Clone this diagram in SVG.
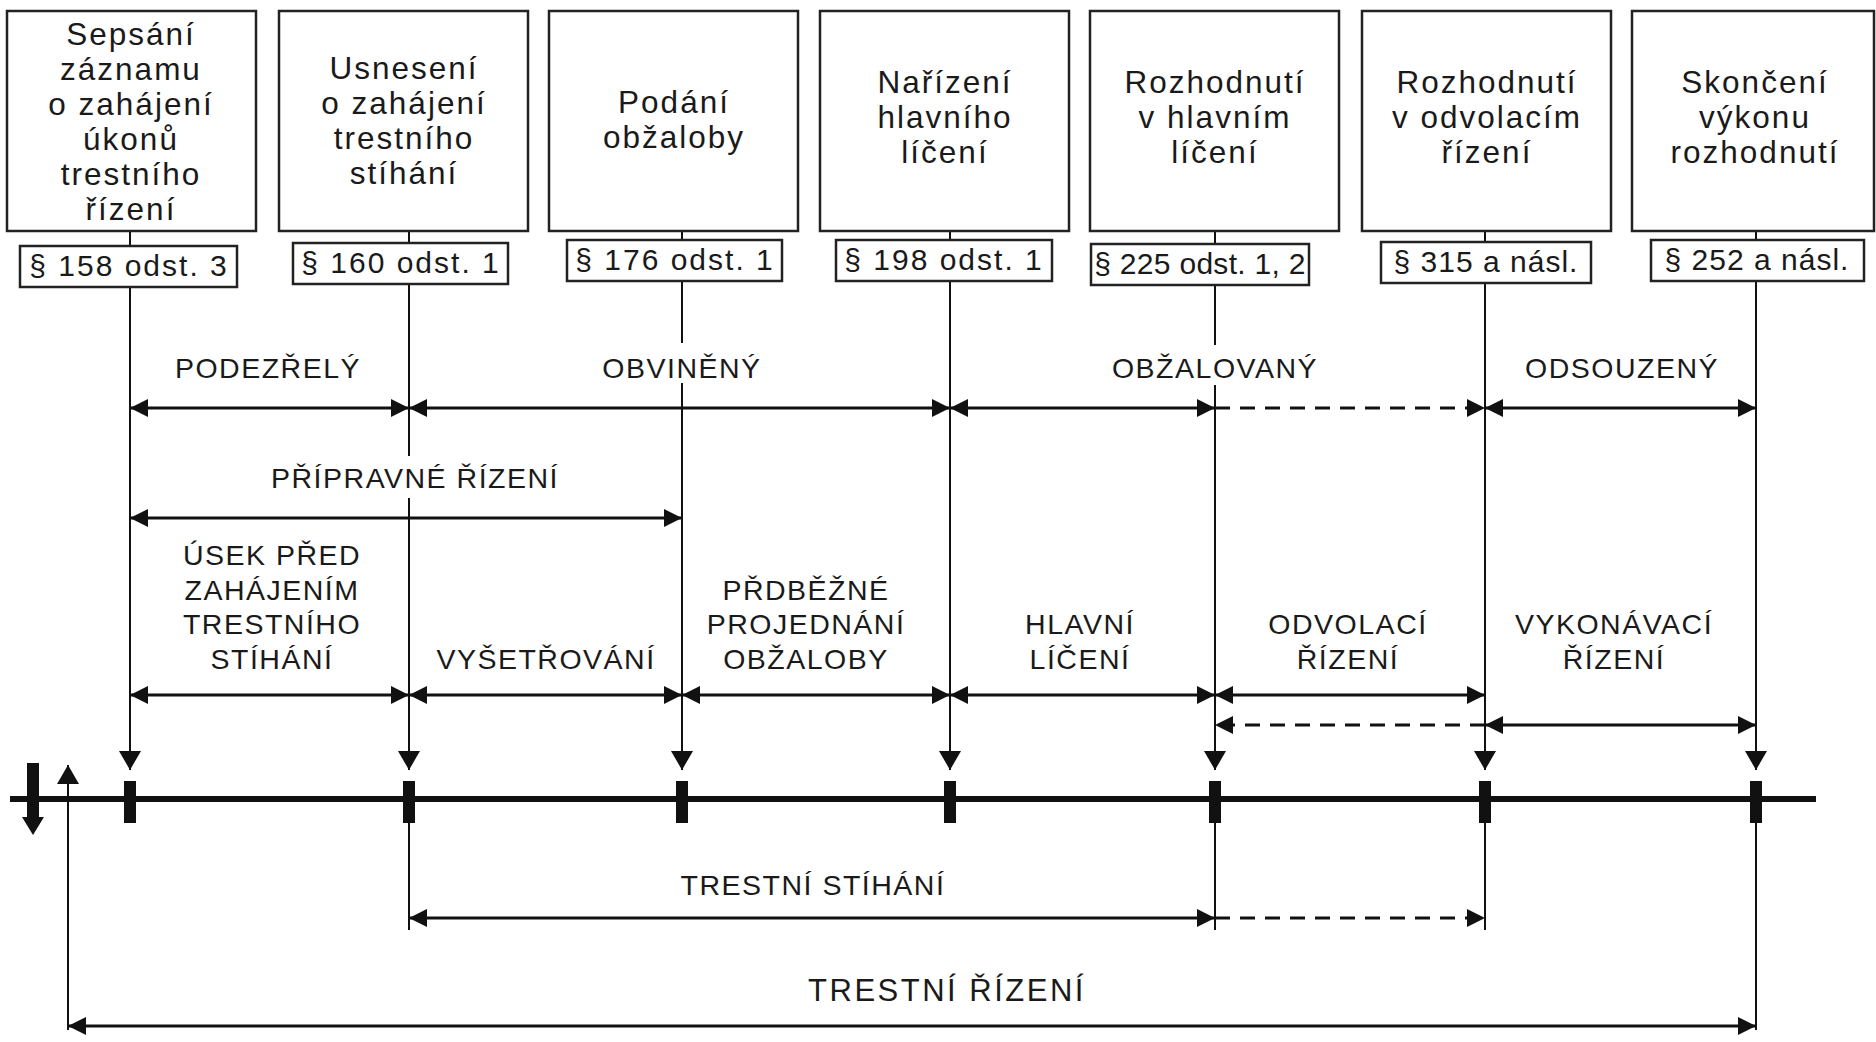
<svg xmlns="http://www.w3.org/2000/svg" width="1876" height="1042" viewBox="0 0 1876 1042">
<defs>
<style>
.box{fill:#fff;stroke:#222;stroke-width:2.5}
.ref{fill:#fff;stroke:#222;stroke-width:2.5}
.bt{font-family:"Liberation Sans",Arial,sans-serif;font-size:31.5px;letter-spacing:2px;fill:#1a1a1a;text-anchor:middle}
.rt{font-family:"Liberation Sans",Arial,sans-serif;font-size:30px;letter-spacing:2px;fill:#1a1a1a;text-anchor:middle}
.lb{font-family:"Liberation Sans",Arial,sans-serif;font-size:28.5px;letter-spacing:1.5px;fill:#1a1a1a;text-anchor:middle}
.vl{stroke:#111;stroke-width:2;fill:none}
.ha{stroke:#111;stroke-width:3;fill:none;marker-start:url(#ah);marker-end:url(#ah)}
.hd{stroke:#111;stroke-width:3;fill:none;stroke-dasharray:15 10;marker-end:url(#ah)}
.va{stroke:#111;stroke-width:2;fill:none;marker-end:url(#vh)}
.tick{fill:#111}
.bg{fill:#fff}
</style>
<marker id="ah" markerWidth="18" markerHeight="18" refX="18" refY="9" orient="auto-start-reverse" markerUnits="userSpaceOnUse"><path d="M0,0 L18,9 L0,18 z" fill="#111"/></marker>
<marker id="vh" markerWidth="20" markerHeight="22" refX="19" refY="11" orient="auto" markerUnits="userSpaceOnUse"><path d="M0,0 L19,11 L0,22 z" fill="#111"/></marker>
</defs>
<rect width="1876" height="1042" fill="#fff"/>

<g id="connectors">
  <path class="vl" d="M130,231 V246 M409,231 V243 M682,231 V240 M950,231 V240 M1215,231 V244 M1485,231 V242 M1756,231 V240"/>
  <path class="va" d="M130,287 V770"/>
  <path class="va" d="M409,284 V770"/>
  <path class="va" d="M682,281 V770"/>
  <path class="va" d="M950,281 V770"/>
  <path class="va" d="M1215,285 V770"/>
  <path class="va" d="M1485,283 V770"/>
  <path class="va" d="M1756,281 V770"/>
  <path class="vl" d="M409,800 V930 M1215,800 V930 M1485,800 V930 M1756,800 V1030"/>
  <line x1="10" y1="799" x2="1816" y2="799" stroke="#111" stroke-width="6"/>
  <rect class="tick" x="124" y="781" width="12" height="42"/>
  <rect class="tick" x="403" y="781" width="12" height="42"/>
  <rect class="tick" x="676" y="781" width="12" height="42"/>
  <rect class="tick" x="944" y="781" width="12" height="42"/>
  <rect class="tick" x="1209" y="781" width="12" height="42"/>
  <rect class="tick" x="1479" y="781" width="12" height="42"/>
  <rect class="tick" x="1750" y="781" width="12" height="42"/>
  <rect x="27" y="763" width="12" height="56" fill="#111"/>
  <polygon points="22,817 44,817 33,835" fill="#111"/>
  <path class="va" d="M68,1030 V765"/>
  <path class="ha" d="M130,408 H409"/>
  <path class="ha" d="M409,408 H950"/>
  <path class="ha" d="M950,408 H1215"/>
  <path class="hd" d="M1215,408 H1485"/>
  <path class="ha" d="M1485,408 H1756"/>
  <path class="ha" d="M130,518 H682"/>
  <path class="ha" d="M130,695 H409"/>
  <path class="ha" d="M409,695 H682"/>
  <path class="ha" d="M682,695 H950"/>
  <path class="ha" d="M950,695 H1215"/>
  <path class="ha" d="M1215,695 H1485"/>
  <path class="hd" d="M1485,725 H1215"/>
  <path class="ha" d="M1485,725 H1756"/>
  <path class="ha" d="M409,918 H1215"/>
  <path class="hd" d="M1215,918 H1485"/>
  <path class="ha" d="M68,1026 H1756"/>
</g>

<g id="labels">
  <rect class="bg" x="596" y="343" width="172" height="40"/>
  <text class="lb" x="682" y="378">OBVINĚNÝ</text>
  <rect class="bg" x="1105" y="345" width="220" height="40"/>
  <text class="lb" x="1215" y="378">OBŽALOVANÝ</text>
  <text class="lb" x="268" y="378">PODEZŘELÝ</text>
  <text class="lb" x="1622" y="378">ODSOUZENÝ</text>
  <rect class="bg" x="264" y="456" width="302" height="42"/>
  <text class="lb" x="415" y="488">PŘÍPRAVNÉ ŘÍZENÍ</text>
  <text class="lb" x="272" y="565">ÚSEK PŘED</text>
  <text class="lb" x="272" y="600">ZAHÁJENÍM</text>
  <text class="lb" x="272" y="634">TRESTNÍHO</text>
  <text class="lb" x="272" y="669">STÍHÁNÍ</text>
  <text class="lb" x="546" y="669">VYŠETŘOVÁNÍ</text>
  <text class="lb" x="806" y="600">PŘDBĚŽNÉ</text>
  <text class="lb" x="806" y="634">PROJEDNÁNÍ</text>
  <text class="lb" x="806" y="669">OBŽALOBY</text>
  <text class="lb" x="1080" y="634">HLAVNÍ</text>
  <text class="lb" x="1080" y="669">LÍČENÍ</text>
  <text class="lb" x="1348" y="634">ODVOLACÍ</text>
  <text class="lb" x="1348" y="669">ŘÍZENÍ</text>
  <text class="lb" x="1614" y="634">VYKONÁVACÍ</text>
  <text class="lb" x="1614" y="669">ŘÍZENÍ</text>
  <text class="lb" x="813" y="895">TRESTNÍ STÍHÁNÍ</text>
  <text class="lb" x="947" y="1001" style="font-size:31px;letter-spacing:2.5px">TRESTNÍ ŘÍZENÍ</text>
</g>

<g id="node1">
  <rect class="box" x="7" y="11" width="249" height="220"/>
  <text class="bt" x="131" y="45">Sepsání</text>
  <text class="bt" x="131" y="80">záznamu</text>
  <text class="bt" x="131" y="115">o zahájení</text>
  <text class="bt" x="131" y="150">úkonů</text>
  <text class="bt" x="131" y="185">trestního</text>
  <text class="bt" x="131" y="220">řízení</text>
  <rect class="ref" x="20" y="246" width="217" height="41"/>
  <text class="rt" x="129" y="276">§ 158 odst. 3</text>
</g>
<g id="node2">
  <rect class="box" x="279" y="11" width="249" height="220"/>
  <text class="bt" x="404" y="79">Usnesení</text>
  <text class="bt" x="404" y="114">o zahájení</text>
  <text class="bt" x="404" y="149">trestního</text>
  <text class="bt" x="404" y="184">stíhání</text>
  <rect class="ref" x="293" y="243" width="215" height="41"/>
  <text class="rt" x="401" y="273">§ 160 odst. 1</text>
</g>
<g id="node3">
  <rect class="box" x="549" y="11" width="249" height="220"/>
  <text class="bt" x="674" y="113">Podání</text>
  <text class="bt" x="674" y="148">obžaloby</text>
  <rect class="ref" x="567" y="240" width="215" height="41"/>
  <text class="rt" x="675" y="270">§ 176 odst. 1</text>
</g>
<g id="node4">
  <rect class="box" x="820" y="11" width="249" height="220"/>
  <text class="bt" x="945" y="93">Nařízení</text>
  <text class="bt" x="945" y="128">hlavního</text>
  <text class="bt" x="945" y="163">líčení</text>
  <rect class="ref" x="836" y="240" width="216" height="41"/>
  <text class="rt" x="944" y="270">§ 198 odst. 1</text>
</g>
<g id="node5">
  <rect class="box" x="1090" y="11" width="249" height="220"/>
  <text class="bt" x="1215" y="93">Rozhodnutí</text>
  <text class="bt" x="1215" y="128">v hlavním</text>
  <text class="bt" x="1215" y="163">líčení</text>
  <rect class="ref" x="1091" y="244" width="218" height="41"/>
  <text class="rt" x="1200" y="274" style="letter-spacing:0.3px">§ 225 odst. 1, 2</text>
</g>
<g id="node6">
  <rect class="box" x="1362" y="11" width="249" height="220"/>
  <text class="bt" x="1487" y="93">Rozhodnutí</text>
  <text class="bt" x="1487" y="128">v odvolacím</text>
  <text class="bt" x="1487" y="163">řízení</text>
  <rect class="ref" x="1381" y="242" width="210" height="41"/>
  <text class="rt" x="1486" y="272" style="letter-spacing:1px">§ 315 a násl.</text>
</g>
<g id="node7">
  <rect class="box" x="1632" y="11" width="242" height="220"/>
  <text class="bt" x="1755" y="93">Skončení</text>
  <text class="bt" x="1755" y="128">výkonu</text>
  <text class="bt" x="1755" y="163">rozhodnutí</text>
  <rect class="ref" x="1651" y="240" width="213" height="41"/>
  <text class="rt" x="1757" y="270" style="letter-spacing:1px">§ 252 a násl.</text>
</g>
</svg>
